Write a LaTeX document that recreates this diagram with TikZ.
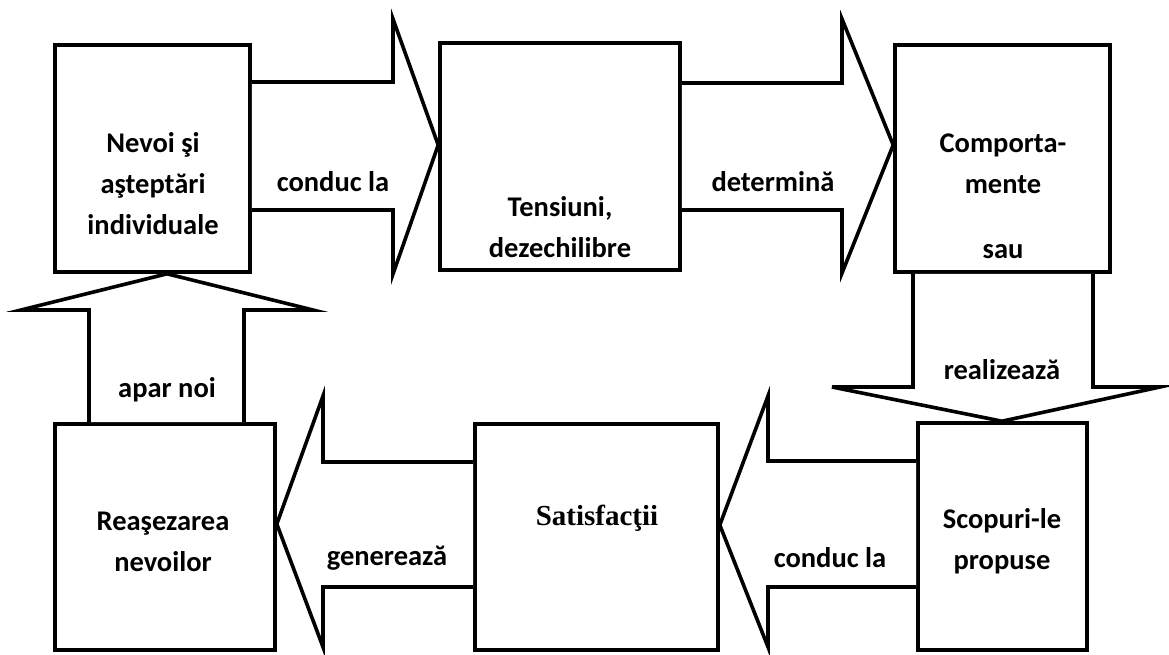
\documentclass[tikz,border=0pt]{standalone}
\usepackage{fontspec}
\newfontfamily\labelfont{Carlito}
\newfontfamily\serifbold{Liberation Serif}
\begin{document}
\begin{tikzpicture}[x=1pt,y=-1pt,
  box/.style={draw,line width=3.6pt,inner sep=0pt,minimum width=#1},
  boxtext/.style={font=\labelfont\bfseries\fontsize{28.5}{41}\selectfont,align=center,inner sep=0pt},
  arrowtext/.style={font=\labelfont\bfseries\fontsize{28.5}{41}\selectfont,inner sep=0pt},
  blockarrow/.style={draw,line width=3.6pt,fill=white}]
\useasboundingbox (0,0) rectangle (1169,655);

% boxes
\node[box=195pt,minimum height=227pt] (b1) at (152.5,158.5) {};
\node[box=240pt,minimum height=227pt] (b2) at (560,156.5) {};
\node[box=215pt,minimum height=227pt] (b3) at (1002.5,158.5) {};
\node[box=169pt,minimum height=227pt] (b4) at (1002.5,536.5) {};
\node[box=243pt,minimum height=226pt] (b5) at (596.5,537) {};
\node[box=220pt,minimum height=226pt] (b6) at (165,537) {};

% box texts
\node[boxtext] (t1) at (153,184) {Nevoi şi\\aşteptări\\individuale};
\node[boxtext] (t2) at (560,227) {Tensiuni,\\dezechilibre};
\node[boxtext] (t3) at (1003,164) {Comporta-\\mente};
\node[boxtext] (t3b) at (1003,252) {sau};
\node[boxtext] (t4) at (1002,541) {Scopuri-le\\propuse};
\node[font=\serifbold\bfseries\fontsize{29}{35}\selectfont,inner sep=0pt] (t5) at (597,518) {Satisfacţii};
\node[boxtext] (t6) at (163,542) {Reaşezarea\\nevoilor};

% block arrows
\draw[blockarrow] (b1.east |- 0,82) -- (393,82) -- (393,19) -- (b2.west |- 0,145)
  -- (393,274) -- (393,210) -- (b1.east |- 0,210);
\draw[blockarrow] (b2.east |- 0,83) -- (842,83) -- (842,19) -- (b3.west |- 0,145)
  -- (842,273) -- (842,210) -- (b2.east |- 0,210);
\draw[blockarrow] (913,0 |- b3.south) -- (913,387) -- (832,387) -- (1002,0 |- b4.north)
  -- (1160,387) -- (1093,387) -- (1093,0 |- b3.south);
\draw[blockarrow] (b4.west |- 0,461) -- (768,461) -- (768,396) -- (b5.east |- 0,525)
  -- (768,647) -- (768,587) -- (b4.west |- 0,587);
\draw[blockarrow] (b5.west |- 0,462) -- (323,462) -- (323,396) -- (b6.east |- 0,524)
  -- (323,647) -- (323,587) -- (b5.west |- 0,587);
\draw[blockarrow] (89,0 |- b6.north) -- (89,310) -- (21,310) -- (167,0 |- b1.south)
  -- (313,310) -- (244,310) -- (244,0 |- b6.north);

% arrow labels
\node[arrowtext] (l1) at (333,182) {conduc la};
\node[arrowtext] (l2) at (773,182) {determină};
\node[arrowtext] (l3) at (1002,370) {realizează};
\node[arrowtext] (l4) at (830,558) {conduc la};
\node[arrowtext] (l5) at (387,558) {generează};
\node[arrowtext] (l6) at (167,390) {apar noi};
\end{tikzpicture}
\end{document}
